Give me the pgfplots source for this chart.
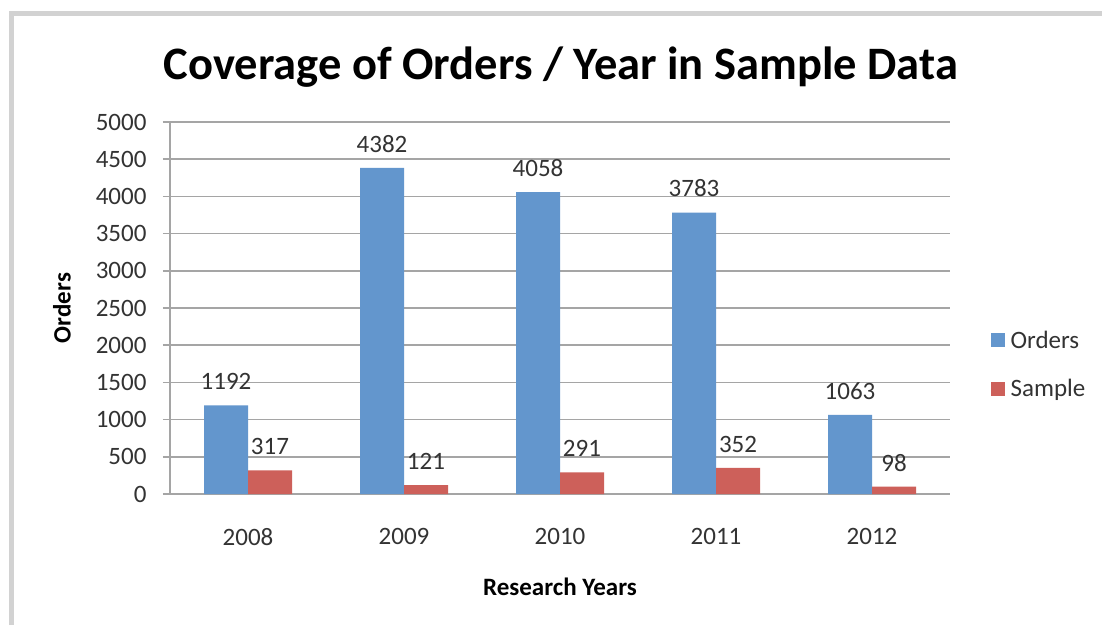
\documentclass[border=0pt]{standalone}
\usepackage{fontspec}
\setmainfont{Carlito}
\usepackage{pgfplots}
\pgfplotsset{compat=1.18}
\definecolor{ordblue}{RGB}{99,150,205}
\definecolor{samred}{RGB}{205,96,90}
\definecolor{gridgray}{RGB}{165,165,165}
\definecolor{framegray}{RGB}{210,210,210}
\begin{document}
\begin{tikzpicture}[x=1pt,y=1pt]
\useasboundingbox (0pt,0pt) rectangle (1102pt,-625pt);
\fill[white] (0pt,0pt) rectangle (1102pt,-625pt);
\draw[framegray, line width=4.5pt] (11.5pt,-625pt) -- (11.5pt,-13.5pt) -- (1102pt,-13.5pt);
\node[font=\fontsize{46.5}{50}\selectfont\bfseries] at (561pt,-67pt) {Coverage of Orders / Year in Sample Data};
\begin{axis}[
  at={(170pt,-494pt)}, anchor=south west,
  scale only axis, width=780pt, height=372pt,
  ybar=0pt, bar width=44pt,
  xmin=-0.5, xmax=4.5, ymin=0, ymax=5000,
  ytick={0,500,...,5000},
  xtick={0,1,2,3,4},
  xticklabels={2008,2009,2010,2011,2012},
  extra x ticks={-0.5,0.5,1.5,2.5,3.5,4.5},
  extra x tick labels={},
  extra x tick style={major tick length=7pt, tick style={gridgray, line width=1.5pt}},
  x tick style={draw=none},
  major tick length=7pt,
  y tick style={gridgray, line width=1.5pt},
  tick align=outside,
  axis x line*=bottom, axis y line*=left,
  axis line style={gridgray, line width=1.5pt, -},
  ymajorgrids, grid style={gridgray, line width=1.5pt},
  /pgf/number format/assume math mode=true,
  /pgf/number format/set thousands separator={},
  scaled y ticks=false,
  ticklabel style={font=\fontsize{25}{28}\selectfont, text=black!80},
  yticklabel style={xshift=-13pt},
  xticklabel style={yshift=-24pt},
  xlabel={Research Years}, ylabel={Orders},
  label style={font=\fontsize{25}{28}\selectfont\bfseries},
  xlabel style={at={(axis description cs:0.5,-0.25)}, anchor=center},
  ylabel style={at={(axis description cs:-0.1385,0.5)}, anchor=center},
  nodes near coords,
  every node near coord/.append style={font=\fontsize{25}{28}\selectfont, text=black!80, yshift=12pt},
  legend style={at={(1.048,0.348)}, anchor=west, draw=none, fill=none, font=\fontsize{25}{28}\selectfont, text=black!80, row sep=26pt, legend cell align=left},
  legend image code/.code={\fill[#1] (0pt,-7pt) rectangle (14pt,7pt); \path (18pt,0pt);},
]
\addplot[fill=ordblue, draw=none] coordinates {(0,1192) (1,4382) (2,4058) (3,3783) (4,1063)};
\addplot[fill=samred, draw=none] coordinates {(0,317) (1,121) (2,291) (3,352) (4,98)};
\legend{Orders, Sample}
\end{axis}
\end{tikzpicture}
\end{document}
